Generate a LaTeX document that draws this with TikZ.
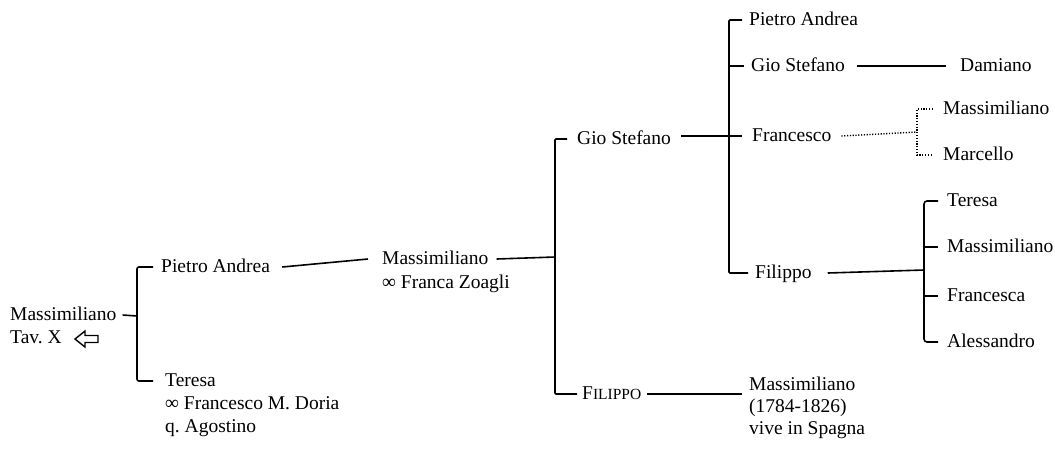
\documentclass[tikz,border=0pt]{standalone}
\usepackage{fontspec}
\setmainfont{Liberation Serif}
\usetikzlibrary{calc}
\begin{document}
\begin{tikzpicture}[x=1pt,y=-1pt,
  lbl/.style={anchor=west,inner sep=0pt,text height=10pt,text depth=0pt,font=\fontsize{19.5}{23}\selectfont},
  conn/.style={line width=1.6pt},
  dotconn/.style={line width=1.4pt,dash pattern=on 1.2pt off 1.6pt},
  hollowarrow/.style={line width=1.4pt,line join=miter,fill=white}]
\useasboundingbox (0,0) rectangle (1055,451);
% nodes
\node[lbl] (root) at (10,315) {Massimiliano};
\node[lbl] (rootb) at (10,338) {Tav.\ X};
\node[lbl] (pa) at (161,267) {Pietro Andrea};
\node[lbl] (te) at (165,381) {Teresa};
\node[lbl] (te2) at (165,404) {∞ Francesco M. Doria};
\node[lbl] (te3) at (165,427) {q.\ Agostino};
\node[lbl] (m2) at (382,259) {Massimiliano};
\node[lbl] (m2b) at (382,283) {∞ Franca Zoagli};
\node[lbl] (gs) at (577,139) {Gio Stefano};
\node[lbl] (fi) at (582,394) {F\fontsize{15.5}{18}\selectfont ILIPPO};
\node[lbl] (mv) at (749,385) {Massimiliano};
\node[lbl] (mv2) at (749,407) {(1784-1826)};
\node[lbl] (mv3) at (749,429) {vive in Spagna};
\node[lbl] (pa2) at (749,20) {Pietro Andrea};
\node[lbl] (gs2) at (751,66) {Gio Stefano};
\node[lbl] (da) at (960,66) {Damiano};
\node[lbl] (fr) at (752,136) {Francesco};
\node[lbl] (ms) at (943,109) {Massimiliano};
\node[lbl] (mc) at (943,155) {Marcello};
\node[lbl] (fl) at (755,273) {Filippo};
\node[lbl] (t2) at (947,201) {Teresa};
\node[lbl] (m3) at (947,247) {Massimiliano};
\node[lbl] (fc) at (947,296) {Francesca};
\node[lbl] (al) at (947,342) {Alessandro};
% bracket junctions
\coordinate (k1) at (137,316);
\coordinate (k2) at (555,257);
\coordinate (k3) at (729,136);
\coordinate (k4) at (917,132);
\coordinate (k5) at (924,270);
\coordinate (k6) at (fi.east -| mv.west);
\coordinate (k7) at (gs.east |- fr.west);
% connectors
\draw[conn] ([xshift=6pt]root.east) -- (k1);
\draw[conn,rounded corners=2pt] ([xshift=-8pt]pa.west) -| (k1) |- ([xshift=-12pt]te.west);
\draw[conn] ([xshift=12pt]pa.east) -- ([xshift=-14pt]m2.west);
\draw[conn] ([xshift=8pt]m2.east) -- (k2);
\draw[conn,rounded corners=1pt] ([xshift=-10pt]gs.west) -| (k2) |- ([xshift=-5pt]fi.west);
\draw[conn] ([xshift=10pt]k7) -- ([xshift=-10pt]fr.west);
\draw[conn,rounded corners=1pt] ([xshift=-7pt]pa2.west) -| (k3) |- ([xshift=-7pt]fl.west);
\draw[conn] (k3 |- gs2.west) -- ([xshift=-7pt]gs2.west);
\draw[conn] ([xshift=12pt]gs2.east) -- ([xshift=-14pt]da.west);
\draw[dotconn] ([xshift=10pt]fr.east) -- (k4);
\draw[dotconn] ([xshift=-10pt]ms.west) -| (k4) |- ([xshift=-10pt]mc.west);
\draw[conn] ([xshift=16pt]fl.east) -- (k5);
\draw[conn,rounded corners=3pt] ([xshift=-9pt]t2.west) -| (k5) |- ([xshift=-9pt]al.west);
\draw[conn] (k5 |- m3.west) -- ([xshift=-9pt]m3.west);
\draw[conn] (k5 |- fc.west) -- ([xshift=-9pt]fc.west);
\draw[conn] ([xshift=6pt]fi.east) -- ([xshift=-7pt]k6);
% hollow arrow
\draw[hollowarrow] (75,339) -- (85,331) -- (85,335.5) -- (98,335.5) -- (98,342.5) -- (85,342.5) -- (85,347) -- cycle;
\end{tikzpicture}
\end{document}
